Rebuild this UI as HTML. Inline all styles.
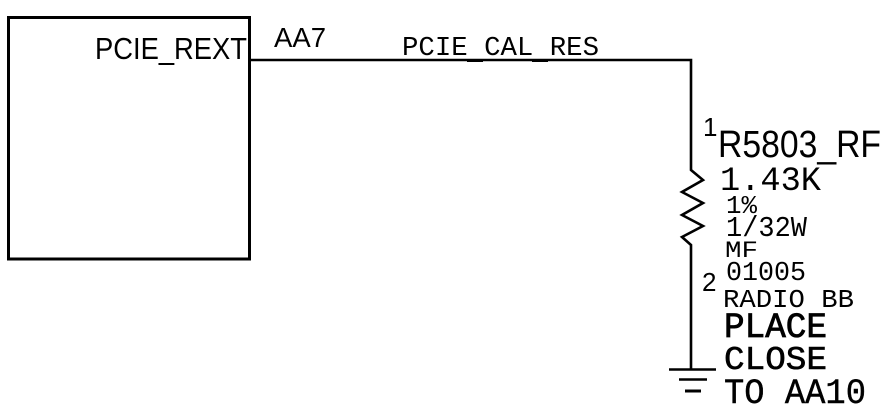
<!DOCTYPE html>
<html>
<head>
<meta charset="utf-8">
<style>
html,body{margin:0;padding:0;background:#fff;width:896px;height:416px;overflow:hidden}
svg{display:block}
.s{font-family:"Liberation Sans",sans-serif;fill:#000}
.m{font-family:"Liberation Mono",monospace;fill:#000}
</style>
</head>
<body>
<svg width="896" height="416" viewBox="0 0 896 416" xmlns="http://www.w3.org/2000/svg">
<rect width="896" height="416" fill="#fff"/>
<g fill="none" stroke="#000">
<rect x="8.5" y="17.5" width="241" height="241.5" stroke-width="3"/>
<polyline points="250,60 691,60 691,170 703,180 682,192 703,203 682,215 703,226 682,237 691,245 691,369" stroke-width="2.6"/>
<line x1="669" y1="369.5" x2="716" y2="369.5" stroke-width="2.6"/>
<line x1="679" y1="379.5" x2="707" y2="379.5" stroke-width="2.6"/>
<line x1="685" y1="391" x2="701" y2="391" stroke-width="3"/>
</g>
<text class="s" x="95" y="59" font-size="30.5" textLength="152" lengthAdjust="spacingAndGlyphs">PCIE_REXT</text>
<text class="s" x="274" y="47" font-size="28" textLength="52" lengthAdjust="spacingAndGlyphs">AA7</text>
<text class="m" x="402" y="55" font-size="27" textLength="197" lengthAdjust="spacingAndGlyphs">PCIE CAL RES</text>
<rect x="467" y="59" width="16" height="3" fill="#000"/>
<rect x="532" y="59" width="16" height="3" fill="#000"/>
<text class="s" x="703" y="136" font-size="26">1</text>
<text class="s" x="718" y="157" font-size="38" textLength="163" lengthAdjust="spacingAndGlyphs">R5803_RF</text>
<text class="m" x="720" y="190" font-size="34" textLength="101" lengthAdjust="spacingAndGlyphs">1.43K</text>
<text class="m" x="726" y="213" font-size="26" textLength="31" lengthAdjust="spacingAndGlyphs">1%</text>
<text class="m" x="726" y="236" font-size="29" textLength="81" lengthAdjust="spacingAndGlyphs">1/32W</text>
<text class="m" x="725" y="257" font-size="23" textLength="33" lengthAdjust="spacingAndGlyphs">MF</text>
<text class="s" x="702" y="291" font-size="26">2</text>
<text class="m" x="726" y="280" font-size="27" textLength="80" lengthAdjust="spacingAndGlyphs">01005</text>
<text class="m" x="723" y="307" font-size="26" textLength="131" lengthAdjust="spacingAndGlyphs">RADIO BB</text>
<text class="m" x="724" y="337" font-size="35" textLength="103" lengthAdjust="spacingAndGlyphs" style="stroke:#000;stroke-width:.8">PLACE</text>
<text class="m" x="724" y="369" font-size="33" textLength="103" lengthAdjust="spacingAndGlyphs" style="stroke:#000;stroke-width:.6">CLOSE</text>
<text class="m" x="724" y="403" font-size="35" textLength="142" lengthAdjust="spacingAndGlyphs" style="stroke:#000;stroke-width:.4">TO AA10</text>
</svg>
</body>
</html>
